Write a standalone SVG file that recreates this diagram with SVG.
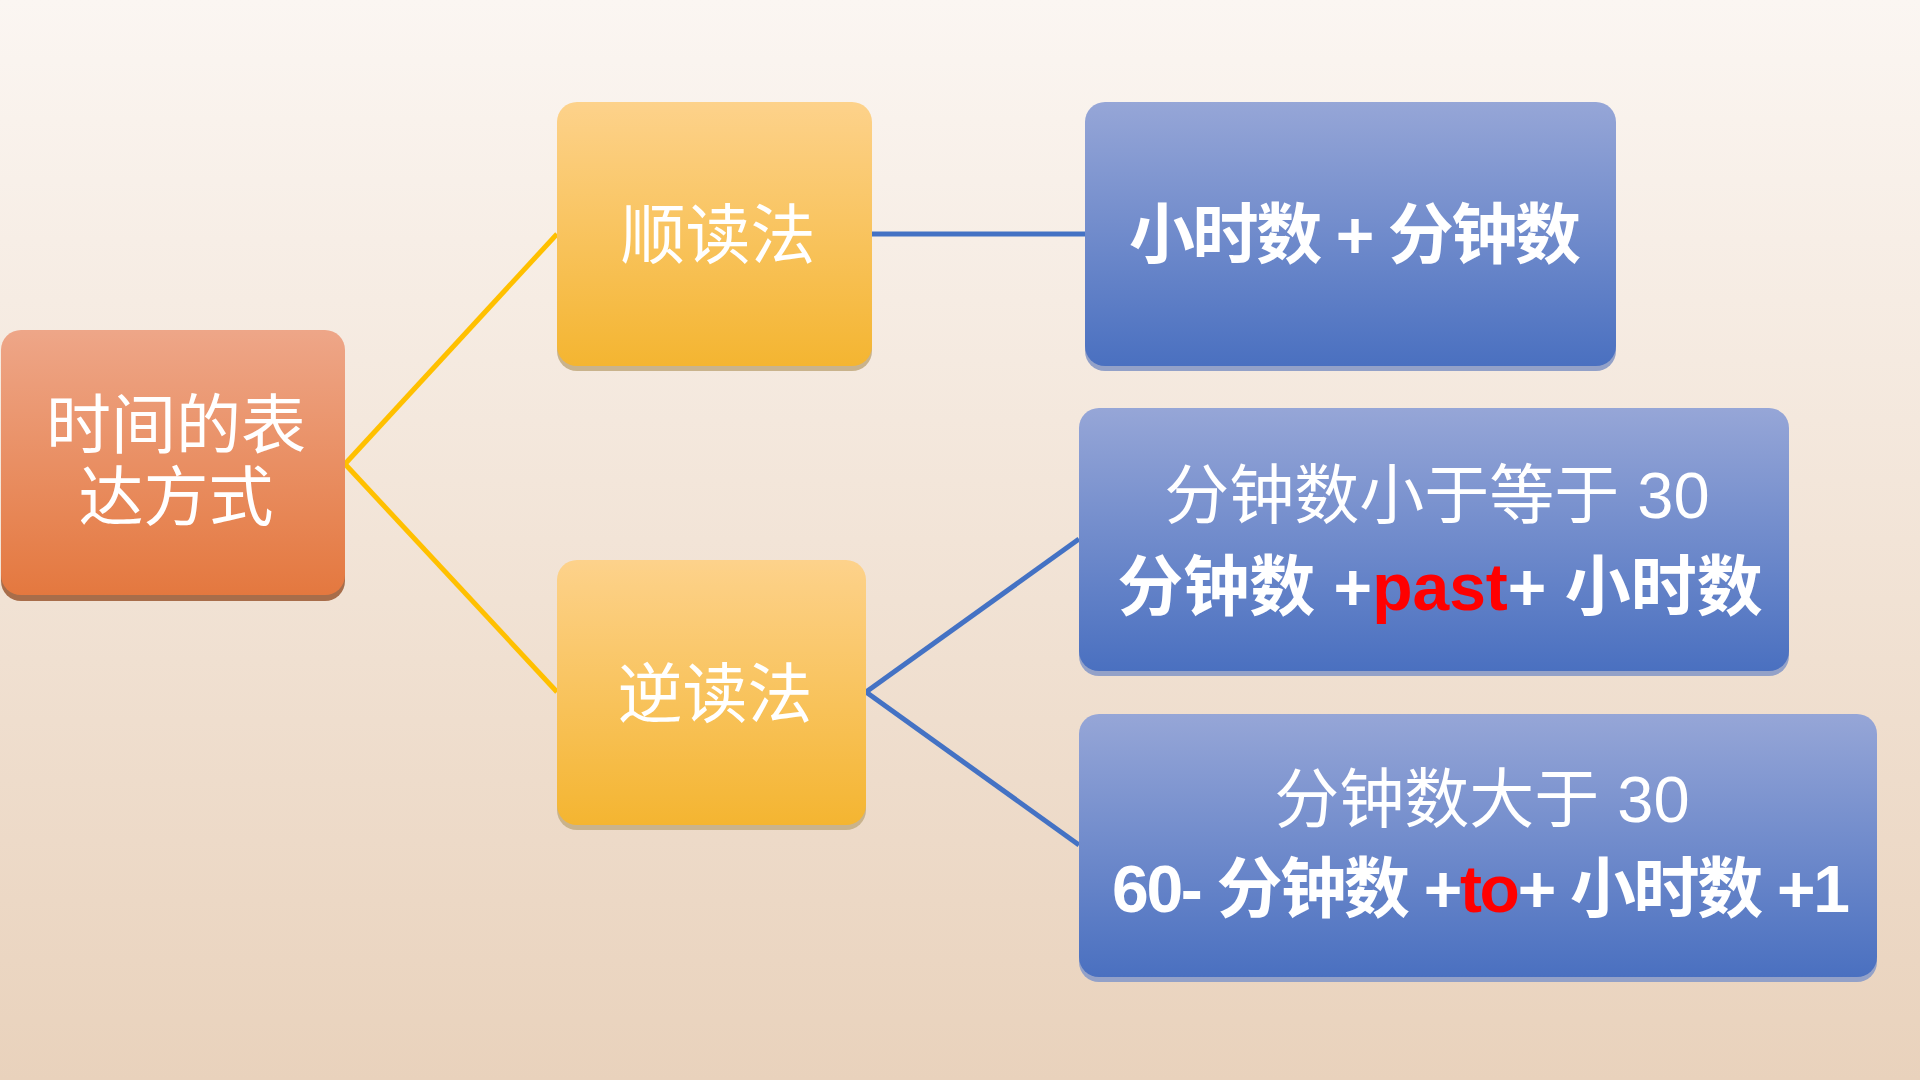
<svg xmlns="http://www.w3.org/2000/svg" width="1920" height="1080" viewBox="0 0 1920 1080">
<defs>
<linearGradient id="bg" x1="0" y1="0" x2="0" y2="1"><stop offset="0" stop-color="#FBF6F2"/><stop offset="1" stop-color="#E9D2BC"/></linearGradient>
<linearGradient id="gOrange" x1="0" y1="0" x2="0" y2="1"><stop offset="0" stop-color="#EEA688"/><stop offset="1" stop-color="#E4783F"/></linearGradient>
<linearGradient id="gYellow" x1="0" y1="0" x2="0" y2="1"><stop offset="0" stop-color="#FDD28B"/><stop offset="1" stop-color="#F4B531"/></linearGradient>
<linearGradient id="gBlue" x1="0" y1="0" x2="0" y2="1"><stop offset="0" stop-color="#96A6D7"/><stop offset="1" stop-color="#4A70C0"/></linearGradient>
</defs>
<style>
.t{font-family:'Liberation Sans','Noto Sans CJK SC',sans-serif;fill:#FFFFFF;text-anchor:middle;font-size:65px}
.b{font-weight:bold;font-size:66px}
.r{fill:#FF0000}
.cy{stroke:#FFC000;stroke-width:5;fill:none}
.cb{stroke:#4472C4;stroke-width:5;fill:none}
</style>
<rect x="0" y="0" width="1920" height="1080" fill="url(#bg)"/>
<g id="connectors">
<path class="cy" d="M345 464 L557 234"/>
<path class="cy" d="M345 464 L557 692"/>
<path class="cb" d="M872 234 L1085 234"/>
<path class="cb" d="M866 692 L1079 539"/>
<path class="cb" d="M866 692 L1079 845"/>
</g>
<g id="root">
<rect x="1" y="337" width="344" height="264" rx="20" fill="#A86D4A"/>
<rect x="1" y="330" width="344" height="265" rx="20" fill="url(#gOrange)"/>
<text class="t" x="176" y="448">时间的表</text>
<text class="t" x="176" y="520">达方式</text>
</g>
<g id="shundufa">
<rect x="557" y="108" width="315" height="263" rx="20" fill="#C9B38C"/>
<rect x="557" y="102" width="315" height="264" rx="20" fill="url(#gYellow)"/>
<text class="t" x="718" y="258">顺读法</text>
</g>
<g id="nidufa">
<rect x="557" y="566" width="309" height="264" rx="20" fill="#C9B38C"/>
<rect x="557" y="560" width="309" height="265" rx="20" fill="url(#gYellow)"/>
<text class="t" x="715" y="717">逆读法</text>
</g>
<g id="box1">
<rect x="1085" y="108" width="531" height="263" rx="20" fill="#93A1C8"/>
<rect x="1085" y="102" width="531" height="264" rx="20" fill="url(#gBlue)"/>
<text class="t b" x="1355" y="258" textLength="452">小时数 + 分钟数</text>
</g>
<g id="box2">
<rect x="1079" y="414" width="710" height="262" rx="20" fill="#93A1C8"/>
<rect x="1079" y="408" width="710" height="263" rx="20" fill="url(#gBlue)"/>
<text class="t" x="1437" y="518">分钟数小于等于 30</text>
<text class="t b" x="1440" y="610">分钟数 +<tspan class="r">past</tspan>+ 小时数</text>
</g>
<g id="box3">
<rect x="1079" y="720" width="798" height="262" rx="20" fill="#93A1C8"/>
<rect x="1079" y="714" width="798" height="263" rx="20" fill="url(#gBlue)"/>
<text class="t" x="1482" y="822">分钟数大于 30</text>
<text class="t b" x="1481" y="912" textLength="738">60- 分钟数 +<tspan class="r">to</tspan>+ 小时数 +1</text>
</g>
</svg>
